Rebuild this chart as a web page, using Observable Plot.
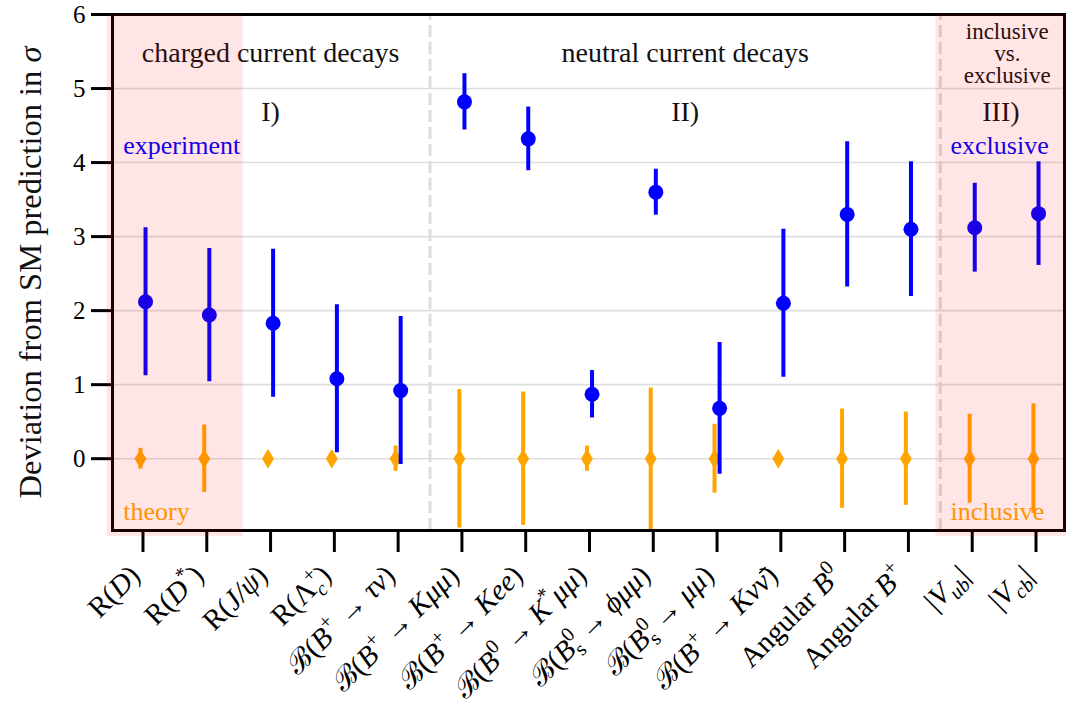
<!DOCTYPE html>
<html><head><meta charset="utf-8">
<script src="https://cdn.jsdelivr.net/npm/d3@7"></script>
<script src="https://cdn.jsdelivr.net/npm/@observablehq/plot@0.6"></script>
<style>
body{margin:0;background:#fff}
svg{display:block}
</style>
</head><body><div id="chart"></div>
<script>
// ---- data ----
const labels = [
  "R($D$)", "R($D$^{*})", "R($J/ψ$)", "R(Λ_{$c$}^{+})",
  "ℬ($B$^{+} → $τν$)", "ℬ($B$^{+} → $Kμμ$)", "ℬ($B$^{+} → $Kee$)",
  "ℬ($B$^{0} → $K$^{*}$μμ$)", "ℬ($B$^{0}_{s} → $ϕμμ$)", "ℬ($B$^{0}_{s} → $μμ$)",
  "ℬ($B$^{+} → $Kνν̄$)", "Angular $B$^{0}", "Angular $B$^{+}",
  "|$V$_{$ub$}|", "|$V$_{$cb$}|"
];
const experimentValue = [2.12, 1.94, 1.83, 1.08, 0.92, 4.82, 4.32, 0.87, 3.60, 0.68, 2.10, 3.30, 3.10, 3.12, 3.31];
const experimentError = [1.00, 0.90, 1.00, 1.00, 1.00, 0.38, 0.43, 0.32, 0.31, 0.89, 1.00, 0.98, 0.91, 0.60, 0.70];
const theoryValue     = [0, 0, 0, 0, 0, 0, 0, 0, 0, 0, 0, 0, 0, 0, 0];
const theoryError     = [0.14, 0.455, 0, 0, 0.17, 0.935, 0.90, 0.17, 0.955, 0.465, 0, 0.67, 0.63, 0.60, 0.74];
const yTicks = [0, 1, 2, 3, 4, 5, 6];
const gridValues = [0, 1, 2, 3, 4, 5];
const sectionDividers = [4.5, 12.5];
const yLabel = "Deviation from SM prediction in $σ$";

const rows = labels.map((label, i) => ({
  i, label,
  exp: experimentValue[i], expErr: experimentError[i],
  th: theoryValue[i], thErr: theoryError[i]
}));

const BLUE = "#0000ff", ORANGE = "#ffa500";
const thinDiamond = {
  draw(context, size) {
    const r = Math.sqrt(size / Math.PI);
    const h = r * 1.4, w = r * 0.85;
    context.moveTo(0, -h); context.lineTo(w, 0); context.lineTo(0, h); context.lineTo(-w, 0); context.closePath();
  }
};
const YMIN = -0.97, YMAX = 6;
const textOpts = {fill: "#111", fontSize: 28, lineAnchor: "middle"};

const chart = Plot.plot({
  width: 1066, height: 717,
  marginLeft: 112, marginRight: 2, marginTop: 14, marginBottom: 187,
  style: {fontFamily: "'Liberation Serif', 'DejaVu Serif', serif", background: "#fff", color: "#000"},
  x: {domain: [-0.478, 14.447], axis: null},
  y: {domain: [YMIN, YMAX], axis: null},
  marks: [
    Plot.ruleY(gridValues, {stroke: "#dedede", strokeWidth: 1.6}),
    Plot.ruleX(sectionDividers, {y1: YMIN, y2: YMAX, stroke: "#dddddd", strokeWidth: 3, strokeDasharray: "12,5"}),
    // theory
    Plot.ruleX(rows, {x: d => d.i - 0.04, y1: d => d.th - d.thErr, y2: d => d.th + d.thErr, stroke: ORANGE, strokeWidth: 4}),
    Plot.dot(rows, {x: d => d.i - 0.04, y: "th", r: 7, symbol: thinDiamond, fill: ORANGE}),
    // experiment
    Plot.ruleX(rows, {x: d => d.i + 0.04, y1: d => d.exp - d.expErr, y2: d => d.exp + d.expErr, stroke: BLUE, strokeWidth: 4}),
    Plot.dot(rows, {x: d => d.i + 0.04, y: "exp", r: 7.5, fill: BLUE}),
    // annotations
    Plot.text(["charged current decays"], {x: 2.0, y: 5.48, ...textOpts}),
    Plot.text(["I)"], {x: 2.0, y: 4.68, ...textOpts}),
    Plot.text(["neutral current decays"], {x: 8.5, y: 5.48, ...textOpts}),
    Plot.text(["II)"], {x: 8.5, y: 4.68, ...textOpts}),
    Plot.text(["inclusive\nvs.\nexclusive"], {x: 13.55, y: 5.47, ...textOpts, fontSize: 23, lineHeight: 0.95}),
    Plot.text(["III)"], {x: 13.45, y: 4.68, ...textOpts}),
    Plot.text(["experiment"], {x: -0.31, y: 4.23, textAnchor: "start", lineAnchor: "middle", fill: BLUE, fontSize: 26}),
    Plot.text(["theory"], {x: -0.31, y: -0.72, textAnchor: "start", lineAnchor: "middle", fill: ORANGE, fontSize: 26}),
    Plot.text(["exclusive"], {x: 12.66, y: 4.23, textAnchor: "start", lineAnchor: "middle", fill: BLUE, fontSize: 26}),
    Plot.text(["inclusive"], {x: 12.66, y: -0.72, textAnchor: "start", lineAnchor: "middle", fill: ORANGE, fontSize: 26}),
    // frame + axes
    Plot.frame({stroke: "#000", strokeWidth: 3}),
    Plot.axisY(yTicks, {tickSize: 21, strokeWidth: 3, tickPadding: 6, fontSize: 25, label: null, fill: "#000",
      tickFormat: d => String(d)}),
    Plot.axisX(d3.range(labels.length), {tickSize: 22, strokeWidth: 3, tickFormat: () => "", label: null}),
    Plot.axisX(d3.range(labels.length), {tickSize: 0, tickPadding: 40, tickRotate: -45, dx: -8,
      tickFormat: i => labels[i], fontSize: 29, label: null, fill: "#000"}),
    Plot.text([yLabel], {frameAnchor: "left", textAnchor: "middle", rotate: -90, dx: -82, lineAnchor: "middle", fontSize: 32.5, fill: "#111"}),
    // shaded regions (translucent red overlay)
    Plot.rect([{a: -0.56, b: 1.57}, {a: 12.43, b: 14.8}], {x1: "a", x2: "b", y1: -1.05, y2: YMAX, fill: "#ff0000", fillOpacity: 0.1})
  ]
});
document.getElementById("chart").append(chart);

// ---- rich text (italic, super/subscripts) ----
function parseMarkup(s) {
  const segs = []; let italic = false, mode = "n", buf = "";
  const flush = () => { if (buf) { segs.push({text: buf, italic, mode}); buf = ""; } };
  for (let k = 0; k < s.length; k++) {
    const c = s[k];
    if (c === "$") { flush(); italic = !italic; }
    else if ((c === "^" || c === "_") && s[k + 1] === "{") { flush(); mode = c === "^" ? "sup" : "sub"; k++; }
    else if (c === "}" && mode !== "n") { flush(); mode = "n"; }
    else buf += c;
  }
  flush();
  return segs;
}
function richify(el) {
  if (el.querySelector("tspan")) return;
  const s = el.textContent;
  if (!/[$]|\^\{|_\{/.test(s)) return;
  const fs = parseFloat(getComputedStyle(el).fontSize);
  const segs = parseMarkup(s);
  el.textContent = "";
  let cur = 0, prev = null;
  for (const seg of segs) {
    const t = document.createElementNS("http://www.w3.org/2000/svg", "tspan");
    t.textContent = seg.text;
    if (seg.italic) t.setAttribute("font-style", "italic");
    const target = seg.mode === "sup" ? -0.42 * fs : seg.mode === "sub" ? 0.24 * fs : 0;
    if (seg.mode !== "n") t.setAttribute("font-size", (0.7 * fs).toFixed(1));
    const d = target - cur;
    if (Math.abs(d) > 0.01) t.setAttribute("dy", d.toFixed(2));
    if (prev && prev.seg.mode !== "n" && seg.mode !== "n" && prev.seg.mode !== seg.mode) {
      t.setAttribute("dx", (-prev.el.getComputedTextLength()).toFixed(2));
    }
    el.appendChild(t);
    cur = target; prev = {seg, el: t};
  }
}
chart.querySelectorAll("text").forEach(richify);
</script>
</body></html>
